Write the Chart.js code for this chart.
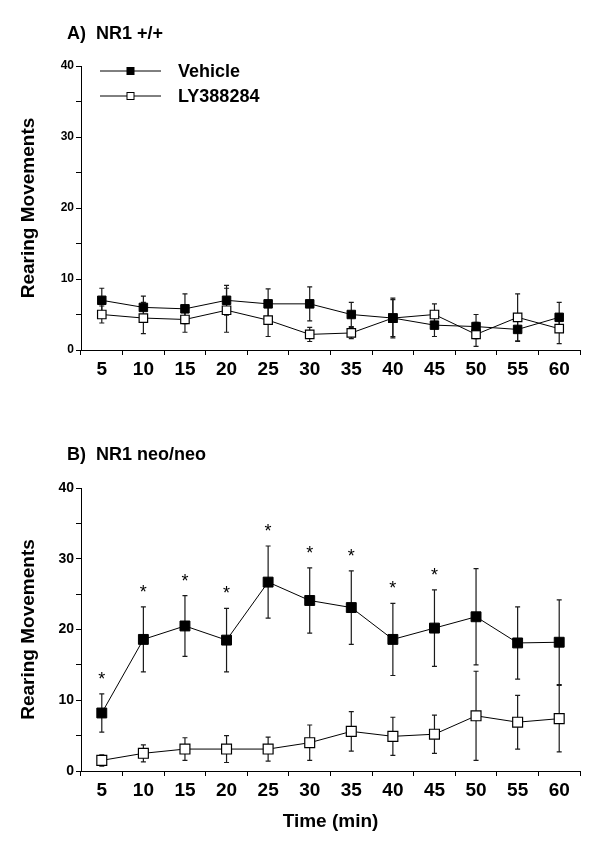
<!DOCTYPE html>
<html>
<head>
<meta charset="utf-8">
<script src="https://cdn.jsdelivr.net/npm/chart.js@4.4.0/dist/chart.umd.min.js"></script>
<style>
  html, body { margin: 0; padding: 0; background: #fff; }
  #wrap { position: relative; width: 601px; height: 852px; }
  canvas { position: absolute; left: 0; }
</style>
</head>
<body>
<div id="wrap">
  <canvas id="chartA" width="601" height="430" style="top:0px"></canvas>
  <canvas id="chartB" width="601" height="422" style="top:430px"></canvas>
</div>
<script>
// time points (min)
const times = ['5', '10', '15', '20', '25', '30', '35', '40', '45', '50', '55', '60'];
const seriesNames = ['Vehicle', 'LY388284'];

// A) NR1 +/+  (mean and SEM)
const vehicleA = [7.0, 6.0, 5.8, 7.0, 6.5, 6.5, 5.0, 4.5, 3.5, 3.3, 2.9, 4.6];
const vehicleAErr = [1.7, 1.6, 2.1, 2.1, 2.1, 2.4, 1.7, 2.8, 1.6, 1.7, 1.7, 2.1];
const lyA = [5.0, 4.5, 4.3, 5.6, 4.2, 2.2, 2.4, 4.5, 5.0, 2.2, 4.6, 3.0];
const lyAErr = [1.2, 2.2, 1.8, 3.1, 2.3, 1.0, 0.8, 2.6, 1.5, 1.7, 3.3, 2.1];

// B) NR1 neo/neo
const vehicleB = [8.2, 18.6, 20.5, 18.5, 26.7, 24.1, 23.1, 18.6, 20.2, 21.8, 18.1, 18.2];
const vehicleBErr = [2.7, 4.6, 4.3, 4.5, 5.1, 4.6, 5.2, 5.1, 5.4, 6.8, 5.1, 6.0];
const lyB = [1.5, 2.5, 3.1, 3.1, 3.1, 4.0, 5.6, 4.9, 5.2, 7.8, 6.9, 7.4];
const lyBErr = [0.8, 1.2, 1.6, 1.9, 1.7, 2.5, 2.8, 2.7, 2.7, 6.3, 3.8, 4.7];
// significant difference vs LY388284 (asterisk)
const sigB = [1, 1, 1, 1, 1, 1, 1, 1, 1, 0, 0, 0];

const FONT = '"Liberation Sans", Arial, Helvetica, sans-serif';

// error bars drawn behind the markers
const errorBars = {
  id: 'errorBars',
  beforeDatasetsDraw(chart) {
    const ctx = chart.ctx;
    const xs = chart.scales.x, ys = chart.scales.y;
    ctx.save();
    ctx.strokeStyle = '#1a1a1a';
    ctx.lineWidth = 1.2;
    chart.data.datasets.forEach(ds => {
      ds.data.forEach((v, i) => {
        const e = ds.errors[i];
        const px = xs.getPixelForValue(i);
        const top = ys.getPixelForValue(v + e);
        const bot = ys.getPixelForValue(Math.max(v - e, 0));
        ctx.beginPath();
        ctx.moveTo(px, top); ctx.lineTo(px, bot);
        ctx.moveTo(px - 2.5, top); ctx.lineTo(px + 2.5, top);
        ctx.moveTo(px - 2.5, bot); ctx.lineTo(px + 2.5, bot);
        ctx.stroke();
      });
    });
    ctx.restore();
  }
};

// panel title, legend and asterisks
const panelDecor = {
  id: 'panelDecor',
  afterDraw(chart, args, opts) {
    const ctx = chart.ctx;
    const xs = chart.scales.x, ys = chart.scales.y;
    ctx.save();
    ctx.fillStyle = '#000';
    ctx.textBaseline = 'middle';
    ctx.font = 'bold 18px ' + FONT;
    ctx.fillText(opts.title, 67, opts.titleY);

    if (opts.legend) {
      chart.data.datasets.forEach((ds, i) => {
        const y = 71 + i * 25;
        ctx.strokeStyle = '#000';
        ctx.lineWidth = 1;
        ctx.beginPath();
        ctx.moveTo(100, y); ctx.lineTo(161, y);
        ctx.stroke();
        ctx.fillStyle = ds.pointBackgroundColor;
        ctx.fillRect(127, y - 3.5, 7, 7);
        ctx.strokeRect(127, y - 3.5, 7, 7);
        ctx.fillStyle = '#000';
        ctx.font = 'bold 18px ' + FONT;
        ctx.fillText(ds.label, 178, y + 1);
      });
    }

    const ds = chart.data.datasets[0];
    if (ds.sig) {
      ctx.font = '18px ' + FONT;
      ctx.textAlign = 'center';
      ds.sig.forEach((s, i) => {
        if (!s) return;
        const px = xs.getPixelForValue(i);
        const top = ys.getPixelForValue(ds.data[i] + ds.errors[i]);
        ctx.fillText('*', px, top - 14);
      });
    }
    ctx.restore();
  }
};

function makeChart(id, vehicle, vehicleErr, ly, lyErr, cfg) {
  const ctx = document.getElementById(id).getContext('2d');
  return new Chart(ctx, {
    type: 'line',
    data: {
      labels: times,
      datasets: [{
        label: seriesNames[0],
        data: vehicle,
        errors: vehicleErr,
        sig: cfg.sig,
        borderColor: '#000',
        borderWidth: 1,
        pointStyle: 'rect',
        pointRadius: cfg.pointRadius,
        pointBackgroundColor: '#000',
        pointBorderColor: '#000',
        pointBorderWidth: 1,
        tension: 0
      }, {
        label: seriesNames[1],
        data: ly,
        errors: lyErr,
        borderColor: '#000',
        borderWidth: 1,
        pointStyle: 'rect',
        pointRadius: cfg.pointRadius,
        pointBackgroundColor: '#fff',
        pointBorderColor: '#000',
        pointBorderWidth: 1.2,
        tension: 0
      }]
    },
    options: {
      responsive: false,
      animation: false,
      events: [],
      layout: { padding: { top: cfg.padTop, right: 21, left: 0, bottom: 0 } },
      plugins: {
        legend: { display: false },
        tooltip: { enabled: false },
        panelDecor: { title: cfg.title, titleY: cfg.titleY, legend: cfg.legend }
      },
      scales: {
        x: {
          type: 'category',
          offset: true,
          afterFit(s) { s.height = cfg.xHeight; },
          border: { color: '#000', width: 1 },
          grid: { offset: true, drawOnChartArea: false, drawTicks: true, tickLength: 5, color: '#000' },
          ticks: { color: '#000', padding: 3, maxRotation: 0, autoSkip: false,
                   font: { family: FONT, size: 19, weight: 'bold' } },
          title: {
            display: !!cfg.xTitle,
            text: cfg.xTitle || '',
            color: '#000',
            font: { family: FONT, size: 19, weight: 'bold' },
            padding: { top: 0, bottom: 19 }
          }
        },
        y: {
          min: 0,
          max: 40,
          afterFit(s) { s.width = 81; },
          border: { color: '#000', width: 1 },
          grid: { drawOnChartArea: false, drawTicks: true, tickLength: 5, color: '#000' },
          ticks: {
            stepSize: 5, autoSkip: false, padding: 2, color: '#000',
            font: { family: FONT, size: cfg.yTickSize, weight: 'bold' },
            callback: v => (v % 10 === 0 ? v : '')
          },
          title: {
            display: true,
            text: 'Rearing Movements',
            color: '#000',
            font: { family: FONT, size: 19, weight: 'bold' },
            padding: { top: 17, bottom: 0 }
          }
        }
      }
    },
    plugins: [errorBars, panelDecor]
  });
}

const chartA = makeChart('chartA', vehicleA, vehicleAErr, lyA, lyAErr, {
  title: 'A)  NR1 +/+', titleY: 34, legend: true, padTop: 66, xHeight: 80,
  pointRadius: 6, yTickSize: 12
});

const chartB = makeChart('chartB', vehicleB, vehicleBErr, lyB, lyBErr, {
  title: 'B)  NR1 neo/neo', titleY: 25, legend: false, padTop: 58, xHeight: 81,
  pointRadius: 7, yTickSize: 14, sig: sigB, xTitle: 'Time (min)'
});
</script>
</body>
</html>
